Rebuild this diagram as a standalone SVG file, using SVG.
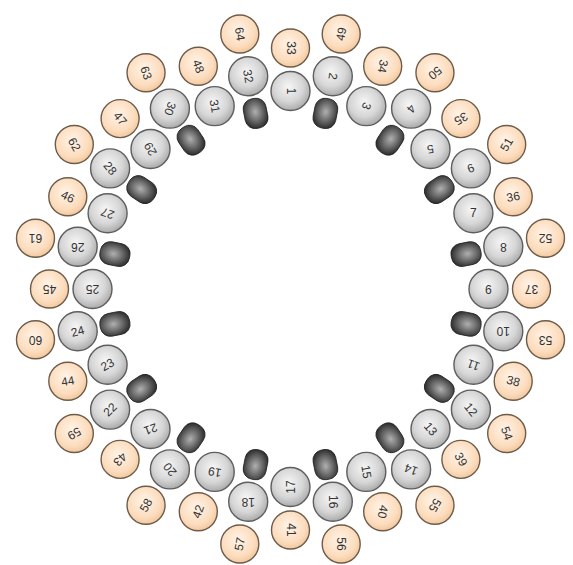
<svg xmlns="http://www.w3.org/2000/svg" width="573" height="565" viewBox="0 0 573 565">
<defs>
<radialGradient id="gg" cx="0.45" cy="0.4" r="0.62">
<stop offset="0" stop-color="#f6f6f6"/><stop offset="0.6" stop-color="#d6d6d6"/><stop offset="1" stop-color="#a8a8a8"/>
</radialGradient>
<radialGradient id="og" cx="0.45" cy="0.4" r="0.62">
<stop offset="0" stop-color="#fff4e8"/><stop offset="0.7" stop-color="#fcdcbd"/><stop offset="1" stop-color="#f0c69c"/>
</radialGradient>
<radialGradient id="bg" cx="0.5" cy="0.45" r="0.6">
<stop offset="0" stop-color="#b0b0b0"/><stop offset="0.5" stop-color="#6c6c6c"/><stop offset="1" stop-color="#262626"/>
</radialGradient>
<style>
.g circle{fill:url(#gg);stroke:#5e5e5e;stroke-width:1.4}
.o circle{fill:url(#og);stroke:#6e5c4a;stroke-width:1.4}
.b rect{fill:url(#bg);stroke:#202020;stroke-width:0.8}
text{font-family:"Liberation Sans",Arial,sans-serif;font-size:12px;fill:#333;text-anchor:middle;dominant-baseline:central}
</style>
</defs>
<rect width="573" height="565" fill="#fff"/>
<g id="blobs" class="b">
<rect id="b1" x="-11.5" y="-15" width="23" height="30" rx="10" transform="translate(325.4 113.4) rotate(11.25)"/>
<rect id="b2" x="-11.5" y="-15" width="23" height="30" rx="10" transform="translate(389.95 140.2) rotate(33.75)"/>
<rect id="b3" x="-11.5" y="-15" width="23" height="30" rx="10" transform="translate(439.3 189.6) rotate(56.25)"/>
<rect id="b4" x="-11.5" y="-15" width="23" height="30" rx="10" transform="translate(466.1 254.1) rotate(78.75)"/>
<rect id="b5" x="-11.5" y="-15" width="23" height="30" rx="10" transform="translate(466.1 323.9) rotate(101.25)"/>
<rect id="b6" x="-11.5" y="-15" width="23" height="30" rx="10" transform="translate(439.3 388.4) rotate(123.75)"/>
<rect id="b7" x="-11.5" y="-15" width="23" height="30" rx="10" transform="translate(389.95 437.8) rotate(146.25)"/>
<rect id="b8" x="-11.5" y="-15" width="23" height="30" rx="10" transform="translate(325.4 464.6) rotate(168.75)"/>
<rect id="b9" x="-11.5" y="-15" width="23" height="30" rx="10" transform="translate(255.6 464.6) rotate(191.25)"/>
<rect id="b10" x="-11.5" y="-15" width="23" height="30" rx="10" transform="translate(191.05 437.8) rotate(213.75)"/>
<rect id="b11" x="-11.5" y="-15" width="23" height="30" rx="10" transform="translate(141.7 388.4) rotate(236.25)"/>
<rect id="b12" x="-11.5" y="-15" width="23" height="30" rx="10" transform="translate(114.9 323.9) rotate(258.75)"/>
<rect id="b13" x="-11.5" y="-15" width="23" height="30" rx="10" transform="translate(114.9 254.1) rotate(281.25)"/>
<rect id="b14" x="-11.5" y="-15" width="23" height="30" rx="10" transform="translate(141.7 189.6) rotate(303.75)"/>
<rect id="b15" x="-11.5" y="-15" width="23" height="30" rx="10" transform="translate(191.05 140.2) rotate(326.25)"/>
<rect id="b16" x="-11.5" y="-15" width="23" height="30" rx="10" transform="translate(255.6 113.4) rotate(348.75)"/>
</g>
<g id="inner" class="g">
<g id="n1"><circle cx="290.5" cy="91" r="19.5"/><text x="290.5" y="91" transform="rotate(90 290.5 91)">1</text></g>
<g id="n2"><circle cx="332.8" cy="76.2" r="19.5"/><text x="332.8" y="76.2" transform="rotate(100 332.8 76.2)">2</text></g>
<g id="n3"><circle cx="366.3" cy="106.1" r="19.5"/><text x="366.3" y="106.1" transform="rotate(110 366.3 106.1)">3</text></g>
<g id="n4"><circle cx="411.1" cy="108.6" r="19.5"/><text x="411.1" y="108.6" transform="rotate(130 411.1 108.6)">4</text></g>
<g id="n5"><circle cx="430.5" cy="149" r="19.5"/><text x="430.5" y="149" transform="rotate(170 430.5 149)">5</text></g>
<g id="n6"><circle cx="470.9" cy="168.4" r="19.5"/><text x="470.9" y="168.4" transform="rotate(-20 470.9 168.4)">6</text></g>
<g id="n7"><circle cx="473.4" cy="213.2" r="19.5"/><text x="473.4" y="213.2">7</text></g>
<g id="n8"><circle cx="503.3" cy="246.7" r="19.5"/><text x="503.3" y="246.7" transform="rotate(180 503.3 246.7)">8</text></g>
<g id="n9"><circle cx="488.5" cy="289" r="19.5"/><text x="488.5" y="289" transform="rotate(180 488.5 289)">9</text></g>
<g id="n10"><circle cx="503.3" cy="331.3" r="19.5"/><text x="503.3" y="331.3" transform="rotate(180 503.3 331.3)">10</text></g>
<g id="n11"><circle cx="473.4" cy="364.8" r="19.5"/><text x="473.4" y="364.8" transform="rotate(200 473.4 364.8)">11</text></g>
<g id="n12"><circle cx="470.9" cy="409.6" r="19.5"/><text x="470.9" y="409.6" transform="rotate(50 470.9 409.6)">12</text></g>
<g id="n13"><circle cx="430.5" cy="429" r="19.5"/><text x="430.5" y="429" transform="rotate(50 430.5 429)">13</text></g>
<g id="n14"><circle cx="411.1" cy="469.4" r="19.5"/><text x="411.1" y="469.4" transform="rotate(200 411.1 469.4)">14</text></g>
<g id="n15"><circle cx="366.3" cy="471.9" r="19.5"/><text x="366.3" y="471.9" transform="rotate(80 366.3 471.9)">15</text></g>
<g id="n16"><circle cx="332.8" cy="501.8" r="19.5"/><text x="332.8" y="501.8" transform="rotate(90 332.8 501.8)">16</text></g>
<g id="n17"><circle cx="290.5" cy="487" r="19.5"/><text x="290.5" y="487" transform="rotate(-90 290.5 487)">17</text></g>
<g id="n18"><circle cx="248.2" cy="501.8" r="19.5"/><text x="248.2" y="501.8" transform="rotate(180 248.2 501.8)">18</text></g>
<g id="n19"><circle cx="214.7" cy="471.9" r="19.5"/><text x="214.7" y="471.9" transform="rotate(190 214.7 471.9)">19</text></g>
<g id="n20"><circle cx="169.9" cy="469.4" r="19.5"/><text x="169.9" y="469.4" transform="rotate(230 169.9 469.4)">20</text></g>
<g id="n21"><circle cx="150.5" cy="429" r="19.5"/><text x="150.5" y="429" transform="rotate(160 150.5 429)">21</text></g>
<g id="n22"><circle cx="110.1" cy="409.6" r="19.5"/><text x="110.1" y="409.6" transform="rotate(-45 110.1 409.6)">22</text></g>
<g id="n23"><circle cx="107.6" cy="364.8" r="19.5"/><text x="107.6" y="364.8" transform="rotate(-30 107.6 364.8)">23</text></g>
<g id="n24"><circle cx="77.7" cy="331.3" r="19.5"/><text x="77.7" y="331.3" transform="rotate(-15 77.7 331.3)">24</text></g>
<g id="n25"><circle cx="92.5" cy="289" r="19.5"/><text x="92.5" y="289" transform="rotate(180 92.5 289)">25</text></g>
<g id="n26"><circle cx="77.7" cy="246.7" r="19.5"/><text x="77.7" y="246.7" transform="rotate(180 77.7 246.7)">26</text></g>
<g id="n27"><circle cx="107.6" cy="213.2" r="19.5"/><text x="107.6" y="213.2" transform="rotate(200 107.6 213.2)">27</text></g>
<g id="n28"><circle cx="110.1" cy="168.4" r="19.5"/><text x="110.1" y="168.4" transform="rotate(50 110.1 168.4)">28</text></g>
<g id="n29"><circle cx="150.5" cy="149" r="19.5"/><text x="150.5" y="149" transform="rotate(-120 150.5 149)">29</text></g>
<g id="n30"><circle cx="169.9" cy="108.6" r="19.5"/><text x="169.9" y="108.6" transform="rotate(110 169.9 108.6)">30</text></g>
<g id="n31"><circle cx="214.7" cy="106.1" r="19.5"/><text x="214.7" y="106.1" transform="rotate(80 214.7 106.1)">31</text></g>
<g id="n32"><circle cx="248.2" cy="76.2" r="19.5"/><text x="248.2" y="76.2" transform="rotate(80 248.2 76.2)">32</text></g>
</g>
<g id="outer" class="o">
<g id="n33"><circle cx="290.5" cy="48" r="19"/><text x="290.5" y="48" transform="rotate(90 290.5 48)">33</text></g>
<g id="n34"><circle cx="382.7" cy="66.3" r="19"/><text x="382.7" y="66.3" transform="rotate(100 382.7 66.3)">34</text></g>
<g id="n35"><circle cx="460.9" cy="118.6" r="19"/><text x="460.9" y="118.6" transform="rotate(150 460.9 118.6)">35</text></g>
<g id="n36"><circle cx="513.2" cy="196.8" r="19"/><text x="513.2" y="196.8" transform="rotate(-10 513.2 196.8)">36</text></g>
<g id="n37"><circle cx="531.5" cy="289" r="19"/><text x="531.5" y="289" transform="rotate(180 531.5 289)">37</text></g>
<g id="n38"><circle cx="513.2" cy="381.2" r="19"/><text x="513.2" y="381.2" transform="rotate(15 513.2 381.2)">38</text></g>
<g id="n39"><circle cx="460.9" cy="459.4" r="19"/><text x="460.9" y="459.4" transform="rotate(60 460.9 459.4)">39</text></g>
<g id="n40"><circle cx="382.7" cy="511.7" r="19"/><text x="382.7" y="511.7" transform="rotate(100 382.7 511.7)">40</text></g>
<g id="n41"><circle cx="290.5" cy="530" r="19"/><text x="290.5" y="530" transform="rotate(90 290.5 530)">41</text></g>
<g id="n42"><circle cx="198.3" cy="511.7" r="19"/><text x="198.3" y="511.7" transform="rotate(-70 198.3 511.7)">42</text></g>
<g id="n43"><circle cx="120.1" cy="459.4" r="19"/><text x="120.1" y="459.4" transform="rotate(135 120.1 459.4)">43</text></g>
<g id="n44"><circle cx="67.8" cy="381.2" r="19"/><text x="67.8" y="381.2" transform="rotate(-10 67.8 381.2)">44</text></g>
<g id="n45"><circle cx="49.5" cy="289" r="19"/><text x="49.5" y="289" transform="rotate(180 49.5 289)">45</text></g>
<g id="n46"><circle cx="67.8" cy="196.8" r="19"/><text x="67.8" y="196.8" transform="rotate(25 67.8 196.8)">46</text></g>
<g id="n47"><circle cx="120.1" cy="118.6" r="19"/><text x="120.1" y="118.6" transform="rotate(50 120.1 118.6)">47</text></g>
<g id="n48"><circle cx="198.3" cy="66.3" r="19"/><text x="198.3" y="66.3" transform="rotate(70 198.3 66.3)">48</text></g>
<g id="n49"><circle cx="341.2" cy="34" r="19"/><text x="341.2" y="34" transform="rotate(-80 341.2 34)">49</text></g>
<g id="n50"><circle cx="434.95" cy="72.8" r="19"/><text x="434.95" y="72.8" transform="rotate(140 434.95 72.8)">50</text></g>
<g id="n51"><circle cx="506.7" cy="144.5" r="19"/><text x="506.7" y="144.5" transform="rotate(-60 506.7 144.5)">51</text></g>
<g id="n52"><circle cx="545.5" cy="238.3" r="19"/><text x="545.5" y="238.3" transform="rotate(180 545.5 238.3)">52</text></g>
<g id="n53"><circle cx="545.5" cy="339.7" r="19"/><text x="545.5" y="339.7" transform="rotate(180 545.5 339.7)">53</text></g>
<g id="n54"><circle cx="506.7" cy="433.5" r="19"/><text x="506.7" y="433.5" transform="rotate(70 506.7 433.5)">54</text></g>
<g id="n55"><circle cx="434.95" cy="505.2" r="19"/><text x="434.95" y="505.2" transform="rotate(120 434.95 505.2)">55</text></g>
<g id="n56"><circle cx="341.2" cy="544" r="19"/><text x="341.2" y="544" transform="rotate(90 341.2 544)">56</text></g>
<g id="n57"><circle cx="239.8" cy="544" r="19"/><text x="239.8" y="544" transform="rotate(-80 239.8 544)">57</text></g>
<g id="n58"><circle cx="146.05" cy="505.2" r="19"/><text x="146.05" y="505.2" transform="rotate(-60 146.05 505.2)">58</text></g>
<g id="n59"><circle cx="74.3" cy="433.5" r="19"/><text x="74.3" y="433.5" transform="rotate(150 74.3 433.5)">59</text></g>
<g id="n60"><circle cx="35.5" cy="339.7" r="19"/><text x="35.5" y="339.7" transform="rotate(180 35.5 339.7)">60</text></g>
<g id="n61"><circle cx="35.5" cy="238.3" r="19"/><text x="35.5" y="238.3" transform="rotate(180 35.5 238.3)">61</text></g>
<g id="n62"><circle cx="74.3" cy="144.5" r="19"/><text x="74.3" y="144.5" transform="rotate(60 74.3 144.5)">62</text></g>
<g id="n63"><circle cx="146.05" cy="72.8" r="19"/><text x="146.05" y="72.8" transform="rotate(70 146.05 72.8)">63</text></g>
<g id="n64"><circle cx="239.8" cy="34" r="19"/><text x="239.8" y="34" transform="rotate(80 239.8 34)">64</text></g>
</g>
</svg>
